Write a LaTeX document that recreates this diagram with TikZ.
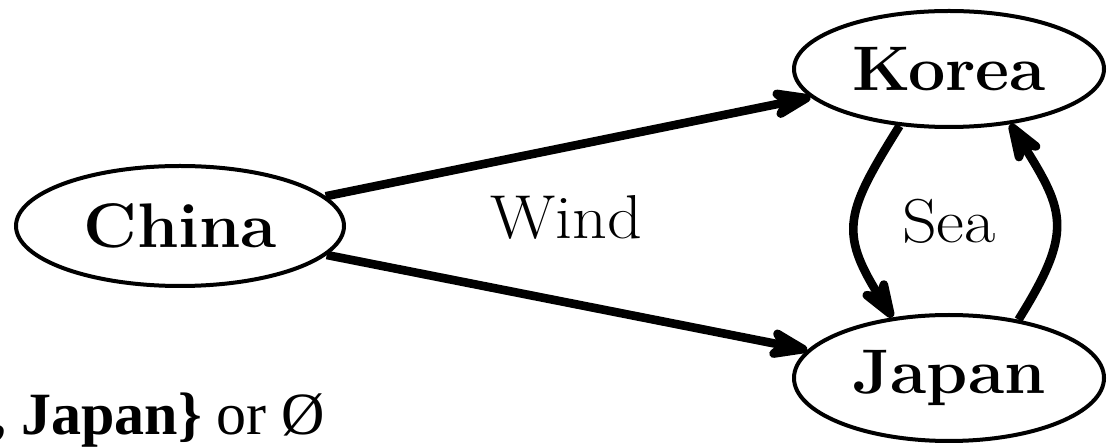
\documentclass[tikz,border=0pt]{standalone}
\usepackage{fontspec}
\usepackage{graphicx}
\newfontfamily\timesfont{Liberation Serif}
\usetikzlibrary{arrows.meta,shapes.geometric}
\newcommand{\widebold}[1]{\scalebox{1.05}[1]{#1}}
\newcommand{\widetext}[1]{\scalebox{1.1}[1]{#1}}
\begin{document}
\begin{tikzpicture}[x=0.5pt,y=-0.5pt,
  place/.style={ellipse,draw,line width=2pt,inner sep=0pt,
    font=\fontsize{31.5}{36}\selectfont\bfseries},
  flow/.style={line width=4.3pt,
    -{Stealth[length=27pt,width=19pt,inset=8pt,round]}},
  lbl/.style={font=\fontsize{31}{36}\selectfont,inner sep=0pt,anchor=base}]
\useasboundingbox (0,0) rectangle (1108,448);

% countries
\node[place,minimum width=164pt,minimum height=60pt] (china) at (180,226) {\widebold{China}};
\node[place,minimum width=155pt,minimum height=58pt] (korea) at (949,69) {\widebold{Korea}};
\node[place,minimum width=155pt,minimum height=63pt] (japan) at (949,378) {\widebold{Japan}};

% wind from China
\draw[flow] (china) -- (korea);
\draw[flow] (china) -- (japan);
\node[lbl] (wind) at (566,239) {\widetext{Wind}};

% sea between Korea and Japan
\draw[flow] (korea.229) to[out=238,in=122,looseness=1.35] (japan.133);
\draw[flow] (japan.40) to[out=58,in=302,looseness=1.35] (korea.318);
\node[lbl] (sea) at (949,243) {\widetext{Sea}};

% set notation
\node[anchor=base west,inner sep=0pt,font=\timesfont\fontsize{30}{34}\selectfont]
  (sets) at (-9,435) {\textbf{, Japan\}} or Ø};
\end{tikzpicture}
\end{document}
